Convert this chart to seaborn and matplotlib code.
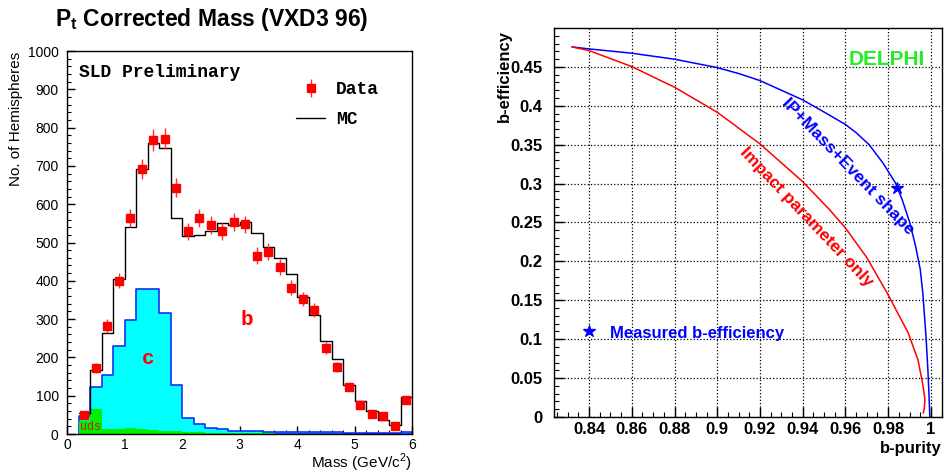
import pandas as pd
import matplotlib
matplotlib.use("Agg")
import matplotlib.pyplot as plt
from matplotlib.lines import Line2D
from matplotlib.ticker import AutoMinorLocator, MultipleLocator
import seaborn as sns

# --- SLD: Pt corrected mass, 0.2 GeV/c^2 bins
mass_centres = [0.3, 0.5, 0.7, 0.9, 1.1, 1.3, 1.5, 1.7, 1.9, 2.1, 2.3, 2.5, 2.7, 2.9, 3.1,
                3.3, 3.5, 3.7, 3.9, 4.1, 4.3, 4.5, 4.7, 4.9, 5.1, 5.3, 5.5, 5.7, 5.9]
mc_counts = [56, 167, 265, 406, 541, 692, 759, 746, 565, 517, 519, 530, 552, 546, 554,
             524, 487, 460, 418, 357, 312, 243, 195, 127, 87, 59, 37, 24, 96]
c_counts = [48, 122, 153, 230, 298, 378, 379, 317, 129, 43, 25, 16, 12, 9, 8,
            7, 6, 6, 5, 5, 4, 4, 4, 3, 3, 3, 3, 3, 6]
uds_counts = [34, 65, 13, 12, 15, 12, 10, 9, 7, 5, 4, 3, 3, 2, 2,
              2, 2, 1, 1, 1, 1, 1, 1, 1, 1, 1, 1, 1, 1]
data_counts = [50, 173, 282, 400, 564, 693, 768, 771, 643, 529, 564, 546, 529, 554, 547,
               466, 476, 435, 382, 352, 323, 225, 176, 123, 76, 52, 47, 20, 89]
data_errors = [7, 13, 17, 20, 24, 26, 28, 28, 25, 23, 24, 23, 23, 24, 23,
               22, 22, 21, 20, 19, 18, 15, 13, 11, 9, 7, 7, 4, 9]

# --- DELPHI: b-efficiency vs b-purity
ipmass_purity = [0.832, 0.840, 0.860, 0.880, 0.900, 0.9106, 0.920, 0.940, 0.950, 0.960,
                 0.9652, 0.9711, 0.9777, 0.9836, 0.9866, 0.9901, 0.9928, 0.9950, 0.9962,
                 0.9970, 0.9978, 0.9986, 0.9991, 0.9995]
ipmass_eff = [0.4757, 0.4731, 0.4676, 0.4599, 0.4491, 0.441, 0.4324, 0.4076, 0.392, 0.376,
              0.365, 0.350, 0.326, 0.300, 0.279, 0.250, 0.220, 0.190, 0.160,
              0.130, 0.100, 0.060, 0.030, 0.0]
ip_purity = [0.832, 0.840, 0.860, 0.880, 0.900, 0.920, 0.940, 0.9527,
             0.960, 0.970, 0.980, 0.9894, 0.994, 0.9964, 0.9972, 0.9969, 0.9964]
ip_eff = [0.4757, 0.4710, 0.4504, 0.4239, 0.3917, 0.351, 0.3025, 0.2661,
          0.243, 0.205, 0.157, 0.108, 0.073, 0.039, 0.022, 0.011, 0.005]
star_purity = [0.9842, 0.840]
star_eff = [0.2948, 0.110]

purity_ticks = [0.84, 0.86, 0.88, 0.90, 0.92, 0.94, 0.96, 0.98, 1.0]
purity_labels = ["0.84", "0.86", "0.88", "0.9", "0.92", "0.94", "0.96", "0.98", "1"]
eff_ticks = [0, 0.05, 0.10, 0.15, 0.20, 0.25, 0.30, 0.35, 0.40, 0.45]
eff_labels = ["0", "0.05", "0.1", "0.15", "0.2", "0.25", "0.3", "0.35", "0.4", "0.45"]

hist_df = pd.DataFrame({"mass": mass_centres, "mc": mc_counts, "c": c_counts,
                        "uds": uds_counts})

sns.set_style("ticks")
plt.rcParams["font.family"] = ["Liberation Sans", "DejaVu Sans"]
plt.rcParams["mathtext.fontset"] = "custom"
plt.rcParams["mathtext.rm"] = "Liberation Sans"
plt.rcParams["mathtext.bf"] = "Liberation Sans:bold"
for key in ["text.color", "axes.labelcolor", "xtick.color", "ytick.color", "axes.edgecolor"]:
    plt.rcParams[key] = "black"
plt.rcParams["axes.linewidth"] = 1.0

W, H = 944, 473
fig = plt.figure(figsize=(9.44, 4.73), dpi=100)
ax1 = fig.add_axes([67 / W, 1 - 434 / H, 345 / W, 383 / H])
ax2 = fig.add_axes([554 / W, 1 - 417 / H, 388 / W, 389 / H])

# ---------------- left panel ----------------
hist_kw = dict(data=hist_df, x="mass", binwidth=0.2, binrange=(0.2, 6.0), element="step", ax=ax1)
sns.histplot(weights="c", fill=True, color="#00ffff", edgecolor="#1030ff", alpha=1,
             linewidth=1.2, **hist_kw)
sns.histplot(weights="uds", fill=True, color="#00ee00", edgecolor="#00ee00", alpha=1,
             linewidth=0, **hist_kw)
sns.histplot(weights="mc", fill=False, color="black", linewidth=1.0, **hist_kw)
eb = ax1.errorbar(mass_centres, data_counts, yerr=data_errors, fmt="s", color="red",
                  ecolor="#ff3030", ms=5.5, elinewidth=1.0, capsize=0, zorder=5)

ax1.set_xlim(0, 6)
ax1.set_ylim(0, 1000)
ax1.set_xticks(range(0, 7))
ax1.set_yticks(range(0, 1001, 100))
ax1.xaxis.set_minor_locator(AutoMinorLocator(5))
ax1.yaxis.set_minor_locator(AutoMinorLocator(5))
ax1.tick_params(which="both", direction="in", top=False, right=False, labelsize=10)
ax1.tick_params(which="major", length=6, width=1)
ax1.tick_params(which="minor", length=3, width=0.8)
ax1.tick_params(axis="y", pad=6)
ax1.tick_params(axis="x", pad=3)
ax1.set_xlabel("")
ax1.set_ylabel("")

mono = {"family": "Liberation Mono", "weight": "bold"}
ax1.text(0.035, 0.945, "SLD Preliminary", transform=ax1.transAxes, fontsize=13,
         ha="left", va="center", **mono)
ax1.text(3.125, 298, "b", color="red", fontsize=15, ha="center", va="center", **mono)
ax1.text(1.414, 198, "c", color="red", fontsize=15, ha="center", va="center", **mono)
ax1.text(0.41, 19, "uds", color="#cc2200", fontsize=8.5, ha="center", va="center",
         family="Liberation Mono")

ax1.legend([eb, Line2D([], [], color="black", lw=1)], ["Data", "MC"],
           loc="upper left", bbox_to_anchor=(0.665, 0.922), frameon=False,
           prop={"family": "Liberation Mono", "weight": "bold", "size": 13},
           handlelength=1.6, handletextpad=0.6, labelspacing=0.72,
           borderpad=0, borderaxespad=0)

ax1.text(1.0, -0.0757, r"Mass (GeV/c$^{2}$)", transform=ax1.transAxes, fontsize=11,
         ha="right", va="center")
ax1.text(-0.1275, 0.997, "No. of Hemispheres", transform=ax1.transAxes, fontsize=11,
         rotation=90, ha="right", va="top")
fig.text(0.224, 1 - 26 / H, r"P$_\mathbf{t}$ Corrected Mass (VXD3 96)", fontsize=16.5,
         fontweight="bold", ha="center", va="baseline")

# ---------------- right panel ----------------
sns.lineplot(x=ipmass_purity, y=ipmass_eff, sort=False, estimator=None, color="#0000ff",
             linewidth=1.1, ax=ax2)
sns.lineplot(x=ip_purity, y=ip_eff, sort=False, estimator=None, color="#ff0000",
             linewidth=1.1, ax=ax2)
ax2.plot(star_purity, star_eff, linestyle="none", marker="*", color="#0000ff", ms=9,
         zorder=5)

ax2.set_xlim(0.8236, 1.0052)
ax2.set_ylim(0, 0.5)
ax2.set_xticks(purity_ticks)
ax2.set_xticklabels(purity_labels)
ax2.set_yticks(eff_ticks)
ax2.set_yticklabels(eff_labels)
ax2.xaxis.set_minor_locator(MultipleLocator(0.005))
ax2.yaxis.set_minor_locator(MultipleLocator(0.01))
ax2.tick_params(which="both", direction="in", top=False, right=False)
ax2.tick_params(which="major", length=7, width=1, labelsize=12)
ax2.tick_params(which="minor", length=3.5, width=0.8)
ax2.tick_params(axis="y", pad=8.5)
ax2.tick_params(axis="x", pad=3.5)
for lab in ax2.get_xticklabels() + ax2.get_yticklabels():
    lab.set_fontweight("bold")
ax2.grid(True, which="major", linestyle=":", color="black", linewidth=0.9)
ax2.set_axisbelow(True)

ax2.text(-0.108, 0.995, "b-efficiency", transform=ax2.transAxes, fontsize=12,
         fontweight="bold", rotation=90, ha="right", va="top")
ax2.text(1.0, -0.08, "b-purity", transform=ax2.transAxes, fontsize=12,
         fontweight="bold", ha="right", va="center")
ax2.text(0.9792, 0.460, "DELPHI", color="#22ee22", fontsize=15, fontweight="bold",
         ha="center", va="center")
ax2.text(0.9611, 0.3214, "IP+Mass+Event shape", color="#0000ff", fontsize=12.5,
         fontweight="bold", rotation=-46, rotation_mode="anchor", ha="center", va="center")
ax2.text(0.9418, 0.2567, "Impact parameter only", color="#ff0000", fontsize=12.5,
         fontweight="bold", rotation=-46.5, rotation_mode="anchor", ha="center", va="center")
ax2.text(0.8498, 0.1067, "Measured b-efficiency", color="#0000ff", fontsize=12,
         fontweight="bold", ha="left", va="center")

fig.savefig("out.png", dpi=100)
